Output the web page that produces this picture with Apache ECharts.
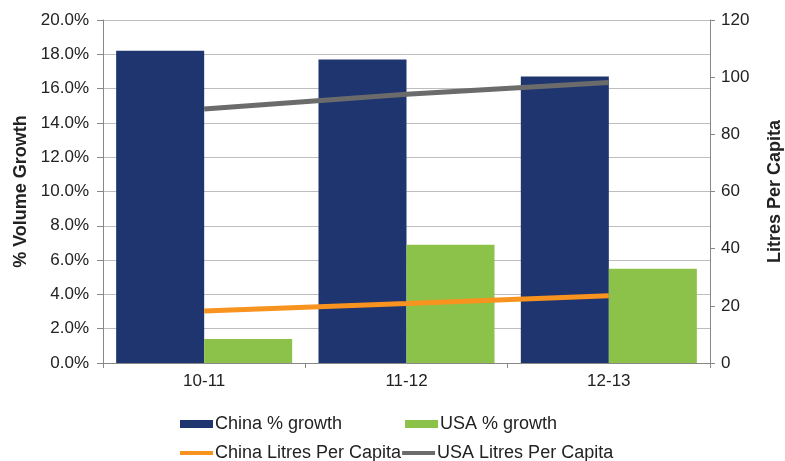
<!DOCTYPE html>
<html>
<head>
<meta charset="utf-8">
<script src="https://cdn.jsdelivr.net/npm/echarts@6/dist/echarts.min.js"></script>
<style>html,body{margin:0;padding:0;background:#fff}#c{width:785px;height:461px}</style>
</head>
<body>
<div id="c"></div>
<script>
const categories = ['10-11', '11-12', '12-13'];
const chinaGrowth = [18.2, 17.7, 16.7];
const usaGrowth = [1.4, 6.9, 5.5];
const chinaLitres = [18.2, 20.8, 23.5];
const usaLitres = [88.9, 94.0, 98.1];
const leftTicks = { min: 0, max: 20, interval: 2 };
const rightTicks = { min: 0, max: 120, interval: 20 };

const FONT = 'Liberation Sans, Arial, sans-serif';
const C_CHINA = '#1F356F';
const C_USA = '#8CC24A';
const C_ORANGE = '#F7931E';
const C_GRAY = '#6B6B6B';

const chart = echarts.init(document.getElementById('c'), null, { renderer: 'canvas' });
chart.setOption({
  animation: false,
  backgroundColor: '#fff',
  grid: { left: 103, right: 75, top: 20, bottom: 98, containLabel: false, outerBoundsMode: 'none' },
  legend: [
    {
      left: 175, top: 410, itemWidth: 33, itemHeight: 8, itemGap: 63,
      textStyle: { fontFamily: FONT, fontSize: 18, color: '#222', padding: [0, 0, 0, -3] },
      data: [
        { name: 'China % growth', icon: 'rect' },
        { name: 'USA % growth', icon: 'rect' }
      ]
    },
    {
      left: 175, top: 439, itemWidth: 33, itemHeight: 4, itemGap: 1,
      textStyle: { fontFamily: FONT, fontSize: 18, color: '#222', padding: [0, 0, 0, -3] },
      data: [
        { name: 'China Litres Per Capita', icon: 'rect' },
        { name: 'USA Litres Per Capita', icon: 'rect' }
      ]
    }
  ],
  xAxis: {
    type: 'category',
    data: categories,
    boundaryGap: true,
    axisLine: { lineStyle: { color: '#888', width: 1 } },
    axisTick: { show: true, alignWithLabel: false, length: 5, lineStyle: { color: '#888' } },
    axisLabel: { fontFamily: FONT, fontSize: 17, color: '#222', margin: 10 }
  },
  yAxis: [
    {
      type: 'value',
      min: leftTicks.min, max: leftTicks.max, interval: leftTicks.interval,
      name: '% Volume Growth',
      nameLocation: 'middle', nameRotate: 90, nameGap: 72,
      nameTextStyle: { fontFamily: FONT, fontSize: 18, fontWeight: 'bold', color: '#222' },
      axisLine: { show: true, lineStyle: { color: '#888' } },
      axisTick: { show: true, length: 6, lineStyle: { color: '#888' } },
      axisLabel: { fontFamily: FONT, fontSize: 17, color: '#222', margin: 14, formatter: v => v.toFixed(1) + '%' },
      splitLine: { show: true, lineStyle: { color: '#BDBDBD', width: 1 } }
    },
    {
      type: 'value',
      position: 'right',
      min: rightTicks.min, max: rightTicks.max, interval: rightTicks.interval,
      name: 'Litres Per Capita',
      nameLocation: 'middle', nameRotate: 90, nameGap: 56,
      nameTextStyle: { fontFamily: FONT, fontSize: 18, fontWeight: 'bold', color: '#222' },
      axisLine: { show: true, lineStyle: { color: '#888' } },
      axisTick: { show: true, length: 5, lineStyle: { color: '#888' } },
      axisLabel: { fontFamily: FONT, fontSize: 17, color: '#222', margin: 11 },
      splitLine: { show: false }
    }
  ],
  series: [
    {
      name: 'China % growth', type: 'bar', yAxisIndex: 0, data: chinaGrowth,
      barGap: '0%', barCategoryGap: '13%',
      itemStyle: { color: C_CHINA }
    },
    {
      name: 'USA % growth', type: 'bar', yAxisIndex: 0, data: usaGrowth,
      barGap: '0%', barCategoryGap: '13%',
      itemStyle: { color: C_USA }
    },
    {
      name: 'China Litres Per Capita', type: 'line', yAxisIndex: 1, data: chinaLitres,
      showSymbol: false, symbol: 'none',
      lineStyle: { color: C_ORANGE, width: 5 }, itemStyle: { color: C_ORANGE }
    },
    {
      name: 'USA Litres Per Capita', type: 'line', yAxisIndex: 1, data: usaLitres,
      showSymbol: false, symbol: 'none',
      lineStyle: { color: C_GRAY, width: 5 }, itemStyle: { color: C_GRAY }
    }
  ]
});
</script>
</body>
</html>
